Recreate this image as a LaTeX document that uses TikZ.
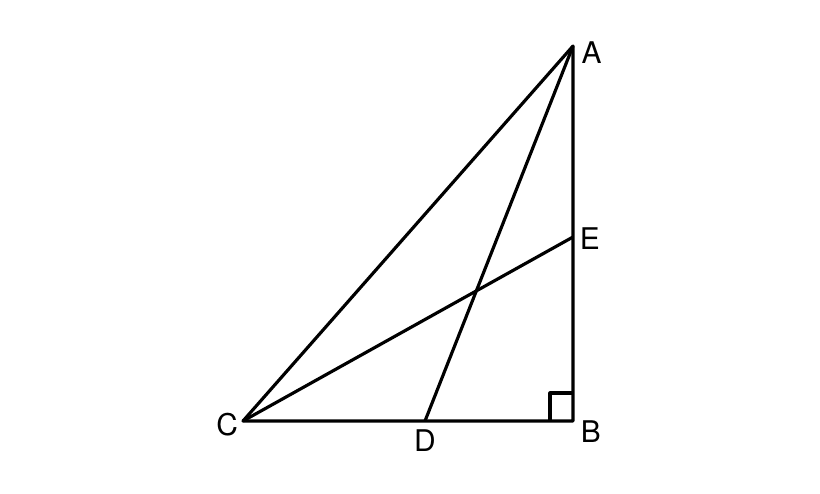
\documentclass[tikz,border=0pt]{standalone}
\usepackage{fontspec}
\setmainfont{TeX Gyre Heros}
\usetikzlibrary{positioning}

\begin{document}
\begin{tikzpicture}[line width=0.9pt, line join=round,
    lbl/.style={font=\fontsize{8.5}{9}\selectfont, inner sep=1pt}]
      \useasboundingbox (0,0) rectangle (8.2,4.94);%
      % Points
      \coordinate (A) at (5.73,4.48);%
      \coordinate (B) at (5.73,0.73);%
      \coordinate (C) at (2.43,0.73);%
      \coordinate (D) at (4.25,0.73);%
      \coordinate (E) at (5.73,2.57);%

      % Labels
      \node [lbl, right=1pt of A, yshift=-2pt] (lA) {A};%
      \node [lbl, right=0.5pt of E, yshift=-0.5pt] (lE) {E};%
      \node [lbl, right=0.8pt of B, yshift=-3pt] (lB) {B};%
      \node [lbl, left=0pt of C, yshift=-1pt] (lC) {C};%
      \node [lbl, below=1pt of D] (lD) {D};%

      % Triangle
      \draw (A) -- (B) -- (C) -- cycle;%
      \draw (A) -- (D);%
      \draw (C) -- (E);%

      % Right angle
      \draw ([xshift=-0.23cm]B) -- ++(0,0.28) -- ++(0.23,0);%
    \end{tikzpicture}
\end{document}
